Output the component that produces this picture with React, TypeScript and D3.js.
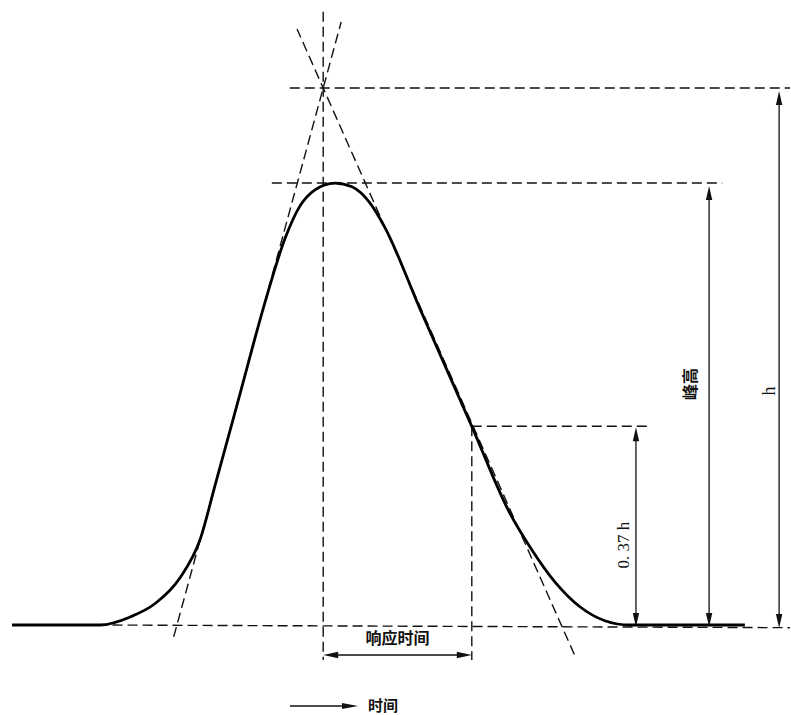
import React from "react";
import * as d3 from "d3";

// Response curve (time units, signal as fraction of h)
const curveT = [0, 11.3, 15.2, 18.4, 21.6, 24.2, 26.1, 29.3, 32.5, 35.1, 37.0, 38.9, 41.5, 43.7, 46.0, 47.9, 52.4, 59.1, 64.0, 66.6, 69.8, 73.0, 76.2, 79.4, 94.2];
const curveY = [0, 0, 0.015, 0.04, 0.088, 0.16, 0.26, 0.43, 0.6, 0.72, 0.78, 0.81, 0.823, 0.816, 0.786, 0.741, 0.59, 0.37, 0.208, 0.145, 0.08, 0.034, 0.008, 0, 0];

// Key values
const apexT = 40;
const hValue = 1.0;
const peakValue = 0.823;
const fracValue = 0.37;
const fracT = 59.1;
const leftTangentBase = 21.2;
const rightTangentBase = 70.6;

// Annotation labels
const labelPeak = "峰高";
const labelH = "h";
const labelFrac = "0. 37 h";
const labelResp = "响应时间";
const labelTime = "时间";

export default function App() {
  const W = 791, H = 715;
  const x = d3.scaleLinear().domain([0, 100]).range([12, 790]);
  const y = d3.scaleLinear().domain([0, 1]).range([625, 88]);

  const pts: [number, number][] = curveT.map((t, i) => [t, curveY[i]]);
  const line = d3.line<[number, number]>().x(d => x(d[0])).y(d => y(d[1])).curve(d3.curveMonotoneX);

  const lt = (v: number) => leftTangentBase + (apexT - leftTangentBase) * v;
  const rt = (v: number) => rightTangentBase - (rightTangentBase - apexT) * v;

  const dash = "10,5";
  const dl = (x1: number, y1: number, x2: number, y2: number, key: string) => (
    <line key={key} x1={x1} y1={y1} x2={x2} y2={y2} stroke="#111" strokeWidth={1.4} strokeDasharray={dash} />
  );

  const arrowV = (xx: number, y1: number, y2: number, key: string) => (
    <g key={key}>
      <line x1={xx} y1={y1 + 8} x2={xx} y2={y2 - 8} stroke="#111" strokeWidth={1.3} />
      <path d={`M${xx},${y1} L${xx - 3.2},${y1 + 14} L${xx + 3.2},${y1 + 14} Z`} fill="#111" />
      <path d={`M${xx},${y2} L${xx - 3.2},${y2 - 14} L${xx + 3.2},${y2 - 14} Z`} fill="#111" />
    </g>
  );

  const respY = 655;
  const x0 = x(apexT), x1 = x(fracT);

  return (
    <svg width={W} height={H} style={{ position: "absolute", left: 0, top: 0, background: "#fff" }}>
      {dl(x(11), y(0), x(100), y(-0.005), "base")}
      {dl(x(35.7), y(hValue), x(100), y(hValue), "hh")}
      {dl(x(33.4), y(peakValue), x(91.3), y(peakValue), "hp")}
      {dl(x(fracT), y(fracValue), x(82.0), y(fracValue), "hf")}
      {dl(x0, y(1.142), x0, y(-0.065), "v0")}
      {dl(x1, y(fracValue), x1, y(-0.065), "v1")}
      {dl(x(lt(-0.022)), y(-0.022), x(lt(1.123)), y(1.123), "lt")}
      {dl(x(rt(-0.055)), y(-0.055), x(rt(1.11)), y(1.11), "rt")}

      <path d={line(pts) || ""} fill="none" stroke="#000" strokeWidth={2.8} strokeLinejoin="round" />

      {arrowV(x(98.6), y(hValue) + 3, y(0) + 3, "ah")}
      {arrowV(x(89.6), y(peakValue) + 3, y(0) + 2, "ap")}
      {arrowV(x(80.2), y(fracValue) + 1, y(0) + 2, "af")}

      <line x1={x0 + 8} y1={respY} x2={x1 - 8} y2={respY} stroke="#111" strokeWidth={1.3} />
      <path d={`M${x0},${respY} L${x0 + 15},${respY - 3.2} L${x0 + 15},${respY + 3.2} Z`} fill="#111" />
      <path d={`M${x1},${respY} L${x1 - 15},${respY - 3.2} L${x1 - 15},${respY + 3.2} Z`} fill="#111" />
      <text x={(x0 + x1) / 2} y={644} textAnchor="middle" fontFamily="'Noto Sans CJK SC'" fontWeight={700} fontSize={16} fill="#111">{labelResp}</text>

      <text transform={`translate(${696},${384}) rotate(-90)`} textAnchor="middle" fontFamily="'Noto Sans CJK SC'" fontWeight={700} fontSize={16} fill="#111">{labelPeak}</text>
      <text transform={`translate(${775},${391}) rotate(-90)`} textAnchor="middle" fontFamily="'Liberation Serif'" fontSize={18} fill="#111">{labelH}</text>
      <text transform={`translate(${629},${545}) rotate(-90)`} textAnchor="middle" fontFamily="'Liberation Serif'" fontSize={17} fill="#111">{labelFrac}</text>

      <line x1={290} y1={706} x2={345} y2={706} stroke="#111" strokeWidth={1.3} />
      <path d={`M358,706 L342,703 L342,709 Z`} fill="#111" />
      <text x={368} y={711} fontFamily="'Noto Sans CJK SC'" fontWeight={700} fontSize={15} fill="#111">{labelTime}</text>
    </svg>
  );
}
